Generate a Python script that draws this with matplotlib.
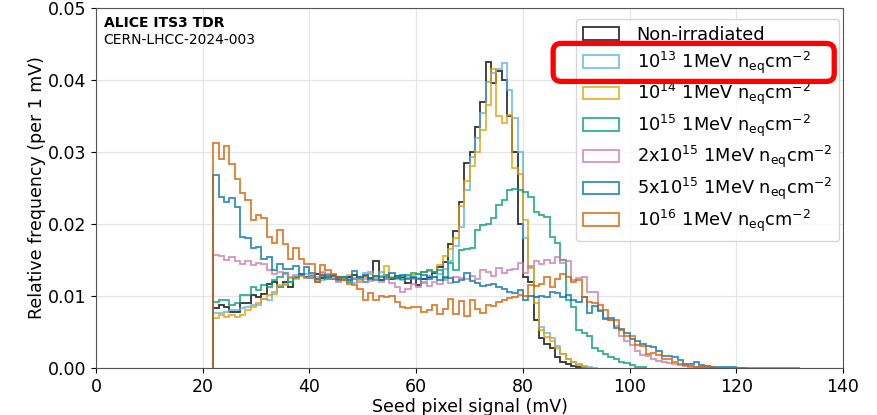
import numpy as np
import matplotlib
matplotlib.use("Agg")
import matplotlib.pyplot as plt
from matplotlib.patches import FancyBboxPatch
from matplotlib.transforms import IdentityTransform

# histogram contents, 1 mV bins starting at 22 mV, in units of 1e-3 per mV
first_bin = 22

non_irr = [8.3, 8.7, 8.5, 7.8, 7.8, 9.0, 9.0, 10.1, 9.9, 10.3,
           11.7, 12.0, 11.3, 12.0, 11.3, 12.5, 13.1, 12.6, 12.8, 13.0,
           12.5, 12.9, 12.3, 12.7, 12.2, 12.6, 12.9, 12.3, 12.8, 12.5,
           14.9, 12.2, 12.9, 12.3, 12.8, 12.6, 11.8, 12.5, 11.5, 12.3,
           12.6, 13.2, 14.0, 14.7, 17.2, 19.0, 23.0, 28.5, 30.0, 33.5,
           37.0, 42.5, 39.6, 41.3, 40.0, 35.0, 30.0, 20.0, 12.7, 11.9,
           6.7, 4.2, 3.3, 2.8, 1.5, 0.8, 0.5, 0.3, 0.1, 0.0]

f1e13 = [7.7, 7.7, 7.8, 8.0, 8.0, 8.3, 8.5, 8.8, 8.7, 9.6,
         9.4, 10.6, 11.3, 11.5, 12.0, 12.5, 12.9, 13.0, 12.9, 12.6,
         12.2, 12.8, 12.5, 12.1, 12.6, 12.3, 11.8, 12.4, 13.2, 13.4,
         12.8, 13.3, 12.9, 12.5, 12.6, 12.2, 12.7, 12.3, 12.5, 12.0,
         12.8, 12.6, 13.0, 13.8, 14.8, 17.0, 19.6, 24.7, 29.3, 32.0,
         35.4, 39.7, 41.0, 41.5, 42.4, 38.6, 34.7, 30.0, 18.0, 14.0,
         9.9, 5.7, 4.8, 4.1, 3.0, 2.0, 1.3, 0.8, 0.5, 0.3, 0.1, 0.0]

f1e14 = [6.9, 7.3, 7.1, 7.3, 7.1, 7.3, 8.0, 8.5, 9.0, 9.6,
         10.1, 10.3, 11.5, 11.7, 12.5, 12.3, 12.8, 12.5, 12.6, 12.3,
         13.4, 12.5, 12.8, 12.4, 12.2, 12.9, 12.5, 12.2, 12.7, 13.0,
         12.4, 12.8, 14.1, 12.6, 12.3, 12.8, 12.5, 12.9, 13.1, 13.3,
         13.5, 13.4, 14.3, 15.5, 16.5, 18.0, 22.5, 26.0, 28.0, 30.0,
         33.0, 36.5, 41.5, 35.0, 34.0, 35.2, 27.8, 27.0, 20.6, 13.9,
         9.0, 5.3, 4.3, 3.8, 2.8, 2.0, 1.2, 0.8, 0.4, 0.2, 0.0]

f1e15 = [9.2, 9.4, 9.4, 8.7, 9.0, 10.1, 10.1, 11.3, 10.8, 11.5,
         11.3, 12.2, 12.7, 13.2, 12.0, 12.6, 12.9, 12.6, 12.5, 12.0,
         12.8, 12.4, 12.9, 12.2, 12.5, 11.9, 12.4, 12.6, 12.0, 12.5,
         12.2, 12.7, 12.3, 12.5, 12.8, 12.4, 12.9, 13.2, 13.0, 13.3,
         13.6, 13.4, 13.6, 12.5, 14.6, 13.6, 16.4, 16.5, 16.6, 19.2,
         19.8, 20.0, 20.8, 22.6, 23.3, 24.7, 24.8, 24.7, 24.5, 23.8,
         21.7, 21.3, 21.0, 18.2, 17.4, 15.0, 9.5, 8.5, 5.3, 4.8,
         4.5, 2.8, 2.3, 2.0, 1.5, 1.2, 0.9, 0.7, 0.4, 0.2, 0.1]

f2e15 = [15.7, 15.6, 15.0, 15.4, 14.8, 14.5, 14.8, 14.3, 14.6, 14.5,
         13.6, 13.1, 13.3, 13.1, 12.7, 12.9, 13.1, 12.5, 12.6, 12.2,
         13.2, 13.0, 12.4, 12.0, 12.6, 12.1, 12.4, 11.9, 12.3, 12.1,
         12.6, 12.0, 12.4, 11.8, 11.2, 10.6, 11.0, 11.6, 11.2, 11.8,
         11.4, 12.0, 11.6, 12.2, 11.8, 12.7, 12.5, 12.3, 12.8, 12.4,
         13.6, 13.4, 12.8, 13.9, 13.2, 13.6, 13.7, 14.6, 13.2, 14.2,
         14.8, 14.5, 15.0, 14.6, 15.4, 14.6, 14.9, 12.2, 12.5, 12.6,
         10.6, 10.6, 8.1, 6.9, 6.7, 5.8, 4.4, 3.8, 3.2, 2.3,
         1.8, 1.6, 1.2, 1.0, 0.8, 0.7, 0.5, 0.4, 0.3, 0.2,
         0.15, 0.1, 0.05, 0.0]

f5e15 = [26.8, 23.8, 23.1, 23.6, 22.3, 18.2, 18.0, 16.6, 16.8, 15.2,
         15.4, 13.6, 14.5, 13.8, 13.8, 14.1, 13.1, 14.0, 13.2, 12.4,
         12.9, 12.6, 12.8, 12.3, 12.7, 12.2, 13.5, 12.6, 12.9, 12.4,
         12.8, 12.2, 12.6, 13.2, 12.5, 12.9, 12.4, 12.7, 12.4, 12.9,
         12.3, 12.6, 12.2, 12.7, 12.5, 12.0, 12.2, 13.2, 12.1, 11.8,
         11.4, 11.5, 11.7, 11.2, 11.0, 10.6, 10.4, 10.8, 9.4, 10.0,
         9.9, 10.0, 9.8, 10.6, 10.4, 9.9, 10.1, 9.5, 9.2, 9.8,
         7.6, 8.6, 7.9, 6.8, 7.0, 5.6, 5.4, 4.8, 4.0, 3.8,
         3.4, 3.0, 2.9, 2.3, 1.6, 1.6, 1.5, 1.1, 0.6, 0.6,
         0.9, 0.4, 0.3, 0.2, 0.2, 0.1, 0.1, 0.1, 0.05, 0.0]

f1e16 = [31.2, 29.0, 30.9, 28.4, 26.2, 24.3, 23.4, 20.6, 21.2, 20.9,
         18.2, 17.3, 19.1, 17.2, 15.2, 16.6, 15.2, 14.5, 14.5, 12.0,
         14.3, 13.6, 13.1, 12.7, 12.2, 11.7, 11.5, 11.0, 9.5, 10.4,
         9.5, 10.0, 9.8, 10.0, 9.2, 8.5, 8.3, 8.5, 8.5, 7.8,
         8.0, 8.8, 7.5, 8.2, 9.6, 7.5, 9.3, 7.2, 9.5, 8.2,
         7.7, 8.8, 8.6, 9.2, 9.5, 9.7, 9.9, 10.1, 10.0, 11.5,
         11.4, 11.6, 12.6, 11.2, 12.3, 13.0, 12.7, 12.0, 12.2, 9.9,
         9.2, 9.0, 8.7, 8.0, 6.7, 6.6, 5.3, 4.4, 4.4, 3.2,
         3.0, 2.0, 2.1, 1.8, 1.3, 1.2, 0.8, 0.6, 0.4, 0.3,
         0.2, 0.2, 0.1, 0.1, 0.05, 0.0, 0.0, 0.0, 0.05, 0.0,
         0.0, 0.0, 0.0, 0.05, 0.0, 0.05, 0.0, 0.05, 0.0, 0.0]

series = [non_irr, f1e13, f1e14, f1e15, f2e15, f5e15, f1e16]
labels = ["Non-irradiated",
          r"$10^{13}$ 1MeV n$_{\rm eq}$cm$^{-2}$",
          r"$10^{14}$ 1MeV n$_{\rm eq}$cm$^{-2}$",
          r"$10^{15}$ 1MeV n$_{\rm eq}$cm$^{-2}$",
          r"2x$10^{15}$ 1MeV n$_{\rm eq}$cm$^{-2}$",
          r"5x$10^{15}$ 1MeV n$_{\rm eq}$cm$^{-2}$",
          r"$10^{16}$ 1MeV n$_{\rm eq}$cm$^{-2}$"]
colors = ["#000000", "#56B4E9", "#E69F00", "#009E73", "#CC79A7", "#0072B2", "#D55E00"]

plt.rcParams['font.family'] = ['DejaVu Sans']
fig = plt.figure(figsize=(8.77, 4.15), dpi=100)
ax = fig.add_axes([0.1095, 0.1133, 0.8517, 0.8674])

for vals, lab, col in zip(series, labels, colors):
    vals = np.array(vals) * 1e-3
    edges = np.arange(first_bin, first_bin + len(vals) + 1)
    centers = edges[:-1] + 0.5
    ax.hist(centers, bins=edges, weights=vals, histtype='step',
            color=col, alpha=0.8, lw=1.3, label=lab)

ax.set_xlim(0, 140)
ax.set_ylim(0, 0.05)
ax.set_xticks(np.arange(0, 141, 20))
ax.set_yticks(np.arange(0, 0.051, 0.01))
ax.yaxis.set_major_formatter(plt.FormatStrFormatter('%.2f'))
ax.tick_params(labelsize=12.5)
ax.grid(True, color='#e6e6e6', lw=0.9)
ax.set_axisbelow(True)
for sp in ax.spines.values():
    sp.set_color('#555555')
ax.set_xlabel("Seed pixel signal (mV)", fontsize=12.5, labelpad=2)
ax.set_ylabel("Relative frequency (per 1 mV)", fontsize=12.5, labelpad=1)

ax.text(0.01, 0.978, "ALICE ITS3 TDR", transform=ax.transAxes, fontsize=10,
        fontweight='bold', va='top', ha='left')
ax.text(0.01, 0.93, "CERN-LHCC-2024-003", transform=ax.transAxes, fontsize=10,
        va='top', ha='left')

leg = ax.legend(loc='upper right', bbox_to_anchor=(0.995, 0.97), fontsize=12.8,
                framealpha=0.8, borderaxespad=0, labelspacing=0.3,
                handletextpad=1.0)

# red highlight around the second legend entry
fig.canvas.draw()
r = fig.canvas.get_renderer()
lb = leg.get_window_extent(r)
tb = leg.get_texts()[1].get_window_extent(r)
yc = 0.5 * (tb.y0 + tb.y1)
box = FancyBboxPatch((lb.x0 - 23, yc - 19), (lb.x1 - 5) - (lb.x0 - 23), 38,
                     boxstyle='round,pad=0,rounding_size=8',
                     transform=IdentityTransform(), fill=False,
                     edgecolor='#ff0000', lw=3.8, zorder=10)
fig.add_artist(box)

fig.savefig("out.png", dpi=100)
